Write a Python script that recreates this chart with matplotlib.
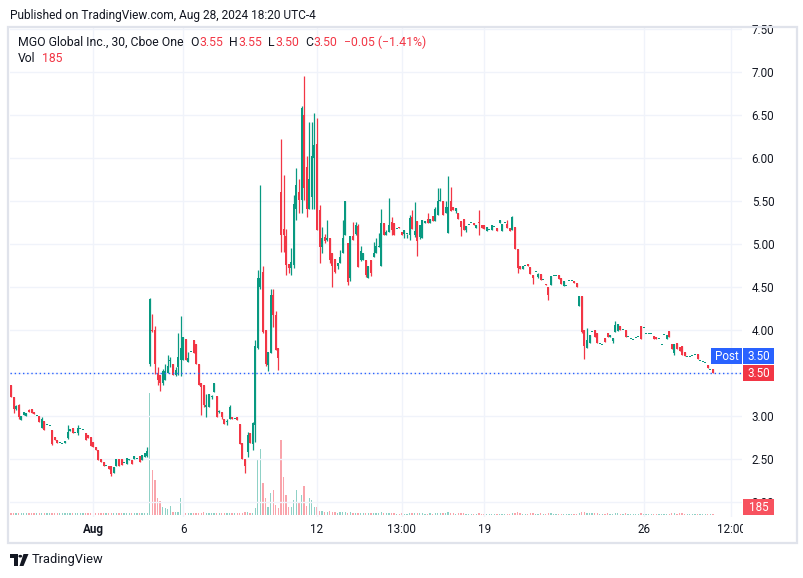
import numpy as np
import matplotlib
matplotlib.use("Agg")
import matplotlib.pyplot as plt
from matplotlib.patches import Rectangle, Polygon, Circle

# ---------------- data (30-minute bars, MGO Global Inc.) ----------------
opens = [
    3.36, 3.22, 3.08, 3.13, 2.95, 3.01, 3.00, 3.07, 3.08, 3.05,
    3.00, 3.00, 2.86, 2.94, 2.89, 2.88, 2.84, 2.76, 2.72, 2.69,
    2.68, 2.69, 2.74, 2.83, 2.86, 2.80, 2.80, 2.85, 2.84, 2.80,
    2.78, 2.76, 2.70, 2.64, 2.61, 2.50, 2.47, 2.42, 2.42, 2.42,
    2.34, 2.42, 2.50, 2.50, 2.45, 2.44, 2.49, 2.49, 2.50, 2.50,
    2.54, 2.49, 2.52, 2.54,
    3.60, 4.00, 4.00, 3.50, 3.48, 3.38, 3.42, 3.50, 3.64, 3.61,
    3.48, 3.57, 3.65, 3.65, 3.90, 3.63, 3.75, 3.88, 3.84, 3.61,
    3.38, 3.36, 3.10, 3.10, 3.22, 3.28, 3.23, 3.05, 3.05, 2.96,
    2.93, 2.97, 2.99, 2.96, 2.99, 2.91, 2.69, 2.50, 2.58, 2.80,
    2.68, 2.90,
    3.79, 4.50, 4.68, 4.00, 3.59, 3.73, 4.41,
    4.17, 3.79, 5.61, 5.18, 5.09, 4.77, 4.72, 4.76, 5.41, 5.60,
    5.51, 6.50, 5.90, 5.41, 5.55, 6.00, 6.16, 5.40, 4.97, 5.08,
    5.05, 5.07, 4.89, 4.83, 4.74, 4.78, 4.89, 5.10, 5.01, 4.60,
    5.09, 5.12, 5.21, 4.81, 4.81, 4.81, 4.61, 4.81, 4.85, 4.90,
    4.97, 4.74, 5.25, 5.10, 5.14, 5.26, 5.24, 5.18, 5.20, 5.14,
    5.12, 5.12, 5.10, 5.32, 5.10, 5.27, 5.08, 5.07, 5.25, 5.29,
    5.25, 5.33, 5.27, 5.34, 5.50, 5.50, 5.36, 5.13, 5.50, 5.43,
    5.38, 5.36, 5.27, 5.29, 5.16, 5.22, 5.25, 5.25, 5.19, 5.26,
    5.22, 5.22, 5.15, 5.16, 5.16, 5.20, 5.19, 5.24, 5.15, 5.25,
    5.23, 5.19, 5.16, 5.20, 4.94, 4.74, 4.71, 4.74, 4.77, 4.73,
    4.64, 4.67, 4.62, 4.65, 4.58, 4.54, 4.50, 4.52, 4.63, 4.63,
    4.64, 4.60, 4.51, 4.51, 4.57, 4.57, 4.57, 4.55, 4.28, 4.39,
    4.00, 3.79, 3.85, 3.98, 4.00, 3.96, 3.84, 3.83, 3.91, 3.97,
    3.92, 3.87, 3.98, 3.99, 4.05, 4.00, 4.00, 3.92, 3.90, 3.88,
    3.91, 3.92, 4.05, 4.02, 3.95, 3.95, 3.95, 3.93, 3.92, 3.89,
    3.83, 3.94, 3.89, 3.99, 3.84, 3.73, 3.85, 3.80, 3.81, 3.75,
    3.69, 3.69, 3.70, 3.71, 3.72, 3.64, 3.63, 3.62, 3.59, 3.54,
    3.55,
]
highs = [
    3.36, 3.22, 3.13, 3.14, 3.00, 3.05, 3.04, 3.08, 3.08, 3.05,
    3.00, 3.00, 2.99, 2.94, 2.89, 2.88, 2.84, 2.76, 2.72, 2.69,
    2.68, 2.71, 2.90, 2.85, 2.86, 2.80, 2.90, 2.85, 2.84, 2.80,
    2.78, 2.76, 2.70, 2.64, 2.61, 2.50, 2.47, 2.42, 2.42, 2.42,
    2.41, 2.50, 2.50, 2.50, 2.45, 2.51, 2.50, 2.49, 2.53, 2.50,
    2.54, 2.55, 2.57, 2.64,
    4.37, 4.19, 4.05, 3.57, 3.48, 3.55, 3.61, 3.71, 3.69, 3.61,
    3.57, 3.96, 4.16, 3.92, 3.90, 3.75, 3.75, 3.88, 3.84, 3.61,
    3.38, 3.36, 3.26, 3.26, 3.24, 3.38, 3.23, 3.07, 3.05, 2.96,
    2.96, 3.13, 2.99, 2.96, 2.99, 2.91, 2.69, 2.50, 2.82, 2.80,
    2.93, 3.88,
    4.70, 5.69, 4.74, 4.00, 3.75, 4.48, 4.48,
    4.22, 3.79, 6.22, 5.80, 5.18, 4.77, 4.95, 5.57, 5.88, 5.76,
    6.60, 6.95, 6.02, 6.42, 6.42, 6.52, 6.46, 5.45, 5.20, 5.12,
    5.28, 5.07, 4.89, 4.83, 4.78, 4.93, 5.28, 5.50, 5.01, 5.09,
    5.26, 5.26, 5.23, 4.98, 4.90, 4.81, 4.74, 4.81, 5.02, 5.07,
    5.13, 5.41, 5.25, 5.16, 5.53, 5.32, 5.24, 5.18, 5.20, 5.14,
    5.16, 5.12, 5.34, 5.40, 5.49, 5.27, 5.22, 5.28, 5.27, 5.36,
    5.29, 5.33, 5.43, 5.65, 5.65, 5.50, 5.50, 5.79, 5.66, 5.43,
    5.42, 5.36, 5.27, 5.29, 5.21, 5.22, 5.25, 5.25, 5.22, 5.40,
    5.22, 5.22, 5.20, 5.16, 5.22, 5.20, 5.19, 5.28, 5.23, 5.25,
    5.28, 5.19, 5.33, 5.20, 4.94, 4.74, 4.74, 4.74, 4.77, 4.73,
    4.64, 4.67, 4.66, 4.65, 4.58, 4.54, 4.50, 4.63, 4.63, 4.63,
    4.64, 4.60, 4.57, 4.51, 4.57, 4.57, 4.57, 4.55, 4.39, 4.39,
    4.00, 4.02, 3.94, 3.98, 4.00, 3.96, 3.84, 3.83, 3.91, 3.97,
    3.94, 3.91, 4.10, 4.07, 4.05, 4.00, 4.00, 3.92, 3.90, 3.88,
    3.91, 3.92, 4.05, 4.02, 3.95, 3.95, 3.95, 3.93, 3.92, 3.89,
    3.83, 3.94, 3.94, 3.99, 3.84, 3.84, 3.85, 3.80, 3.81, 3.75,
    3.69, 3.69, 3.70, 3.71, 3.72, 3.64, 3.63, 3.62, 3.59, 3.54,
    3.55,
]
lows = [
    3.22, 3.04, 3.07, 2.97, 2.95, 3.01, 3.00, 3.05, 3.03, 3.02,
    3.00, 2.93, 2.86, 2.84, 2.89, 2.88, 2.66, 2.72, 2.69, 2.69,
    2.68, 2.69, 2.73, 2.83, 2.80, 2.80, 2.78, 2.85, 2.84, 2.72,
    2.74, 2.65, 2.64, 2.61, 2.49, 2.47, 2.42, 2.42, 2.38, 2.30,
    2.34, 2.42, 2.42, 2.43, 2.45, 2.44, 2.49, 2.44, 2.50, 2.50,
    2.47, 2.49, 2.52, 2.52,
    3.58, 3.98, 3.49, 3.36, 3.29, 3.36, 3.42, 3.50, 3.57, 3.48,
    3.47, 3.48, 3.46, 3.65, 3.65, 3.63, 3.75, 3.73, 3.61, 3.36,
    3.01, 3.10, 2.99, 3.10, 3.20, 3.28, 2.99, 3.03, 2.97, 2.91,
    2.90, 2.97, 2.96, 2.96, 2.95, 2.68, 2.50, 2.34, 2.52, 2.69,
    2.60, 2.70,
    3.78, 4.48, 3.96, 3.58, 3.52, 3.73, 4.04,
    3.77, 3.53, 4.91, 4.91, 4.64, 4.66, 4.64, 4.72, 5.28, 5.36,
    5.36, 5.51, 5.32, 5.41, 5.41, 5.41, 5.16, 4.78, 4.89, 5.01,
    5.03, 4.78, 4.50, 4.66, 4.71, 4.78, 4.89, 5.10, 4.52, 4.57,
    5.05, 5.10, 4.73, 4.80, 4.81, 4.62, 4.60, 4.63, 4.85, 4.90,
    4.97, 4.74, 5.10, 5.10, 5.14, 5.10, 5.10, 5.18, 5.19, 5.10,
    5.07, 5.07, 5.05, 5.17, 5.08, 4.86, 5.06, 5.07, 5.25, 5.24,
    5.25, 5.27, 5.27, 5.34, 5.50, 5.34, 5.36, 5.13, 5.38, 5.40,
    5.36, 5.29, 5.09, 5.16, 5.14, 5.22, 5.25, 5.22, 5.19, 5.11,
    5.19, 5.17, 5.15, 5.16, 5.16, 5.20, 5.15, 5.24, 5.15, 5.25,
    5.19, 5.15, 5.16, 4.94, 4.66, 4.71, 4.71, 4.74, 4.74, 4.65,
    4.54, 4.67, 4.60, 4.58, 4.58, 4.52, 4.35, 4.52, 4.63, 4.63,
    4.59, 4.54, 4.51, 4.51, 4.57, 4.57, 4.55, 4.50, 4.28, 3.96,
    3.66, 3.79, 3.85, 3.98, 3.92, 3.85, 3.84, 3.83, 3.86, 3.92,
    3.92, 3.85, 3.98, 3.99, 4.00, 4.00, 3.92, 3.92, 3.90, 3.88,
    3.91, 3.92, 3.90, 4.02, 3.95, 3.95, 3.95, 3.90, 3.89, 3.89,
    3.83, 3.94, 3.89, 3.92, 3.78, 3.71, 3.78, 3.76, 3.71, 3.70,
    3.69, 3.69, 3.70, 3.71, 3.66, 3.64, 3.63, 3.62, 3.56, 3.54,
    3.50,
]
closes = [
    3.22, 3.08, 3.12, 2.99, 3.00, 3.05, 3.03, 3.05, 3.03, 3.02,
    3.00, 2.93, 2.97, 2.84, 2.89, 2.88, 2.67, 2.72, 2.69, 2.69,
    2.68, 2.71, 2.82, 2.85, 2.80, 2.80, 2.86, 2.85, 2.84, 2.72,
    2.74, 2.65, 2.64, 2.61, 2.49, 2.47, 2.42, 2.42, 2.38, 2.33,
    2.41, 2.50, 2.42, 2.43, 2.45, 2.51, 2.50, 2.44, 2.53, 2.50,
    2.47, 2.55, 2.57, 2.59,
    4.36, 3.99, 3.61, 3.42, 3.38, 3.52, 3.52, 3.58, 3.64, 3.48,
    3.53, 3.69, 3.79, 3.92, 3.65, 3.68, 3.75, 3.73, 3.61, 3.36,
    3.34, 3.13, 3.13, 3.26, 3.22, 3.38, 2.99, 3.05, 2.99, 2.91,
    2.93, 3.11, 2.96, 2.96, 2.95, 2.68, 2.50, 2.42, 2.78, 2.69,
    2.92, 3.81,
    4.60, 4.60, 3.98, 3.60, 3.75, 4.41, 4.17,
    3.77, 3.67, 5.10, 5.10, 4.76, 4.72, 4.79, 5.47, 5.69, 5.51,
    6.58, 5.65, 5.41, 5.76, 6.02, 6.15, 5.16, 4.97, 5.07, 5.03,
    5.07, 4.81, 4.74, 4.68, 4.78, 4.85, 5.07, 5.50, 4.56, 5.09,
    5.05, 5.22, 4.73, 4.92, 4.90, 4.64, 4.74, 4.66, 4.90, 4.98,
    4.97, 5.25, 5.10, 5.14, 5.22, 5.16, 5.10, 5.18, 5.19, 5.10,
    5.16, 5.12, 5.30, 5.17, 5.15, 5.03, 5.22, 5.28, 5.27, 5.24,
    5.29, 5.27, 5.41, 5.50, 5.50, 5.34, 5.43, 5.43, 5.38, 5.40,
    5.42, 5.29, 5.20, 5.16, 5.21, 5.22, 5.25, 5.22, 5.22, 5.24,
    5.19, 5.17, 5.20, 5.16, 5.22, 5.20, 5.15, 5.28, 5.23, 5.25,
    5.19, 5.15, 5.32, 4.94, 4.72, 4.71, 4.74, 4.74, 4.74, 4.65,
    4.60, 4.67, 4.65, 4.58, 4.58, 4.52, 4.41, 4.63, 4.63, 4.63,
    4.59, 4.54, 4.57, 4.51, 4.57, 4.57, 4.55, 4.50, 4.39, 3.98,
    3.81, 3.88, 3.94, 3.98, 3.92, 3.85, 3.84, 3.83, 3.86, 3.92,
    3.94, 3.91, 4.06, 4.07, 4.00, 4.00, 3.92, 3.92, 3.90, 3.88,
    3.91, 3.92, 3.90, 4.02, 3.95, 3.95, 3.95, 3.90, 3.89, 3.89,
    3.83, 3.94, 3.94, 3.92, 3.78, 3.84, 3.78, 3.76, 3.71, 3.70,
    3.69, 3.69, 3.70, 3.71, 3.66, 3.64, 3.63, 3.62, 3.56, 3.54,
    3.50,
]
volumes = [
    420, 380, 300, 350, 330, 380, 300, 340, 360, 310,
    300, 350, 330, 360, 300, 290, 380, 340, 320, 300,
    300, 320, 380, 330, 340, 300, 350, 310, 300, 340,
    330, 360, 350, 330, 380, 340, 350, 300, 320, 380,
    350, 360, 340, 330, 300, 340, 330, 310, 340, 300,
    330, 350, 360, 380,
    23500, 8700, 6650, 3230, 2660, 1520, 1330, 1140, 1710, 570,
    570, 570, 3230, 760, 380, 400, 350, 300, 330, 450,
    420, 520, 450, 380, 400, 330, 360, 420, 380, 350,
    380, 300, 420, 330, 300, 350, 480, 520, 560, 450,
    420, 1330,
    10800, 12700, 6100, 3230, 1520, 4180, 4750,
    1900, 1330, 14400, 7400, 3800, 1520, 1520, 2850, 4750, 2280,
    3800, 5500, 1710, 3230, 2850, 1520, 1520, 760, 700, 620,
    650, 700, 560, 520, 480, 500, 620, 580, 450, 520,
    420, 380, 450, 400, 380, 420, 350, 380, 400, 360,
    330, 520, 380, 300, 420, 350, 300, 280, 260, 300,
    280, 250, 320, 300, 350, 380, 300, 330, 280, 260,
    300, 280, 350, 420, 330, 380, 300, 560, 400, 300,
    280, 300, 320, 300, 260, 250, 280, 240, 260, 330,
    260, 250, 240, 230, 280, 240, 250, 280, 260, 240,
    280, 250, 420, 480, 520, 300, 260, 240, 280, 300,
    320, 250, 260, 300, 240, 280, 340, 300, 250, 230,
    260, 280, 250, 230, 240, 230, 250, 270, 380, 620,
    520, 420, 350, 300, 320, 340, 260, 240, 280, 300,
    260, 280, 380, 320, 280, 250, 300, 240, 230, 220,
    240, 230, 320, 260, 230, 220, 240, 260, 280, 230,
    240, 250, 260, 280, 300, 340, 280, 300, 320, 280,
    230, 220, 230, 220, 260, 240, 220, 230, 250, 220,
    185,
]
time_labels = ["Aug", "6", "12", "13:00", "19", "26", "12:00"]
time_label_bars = [32, 67, 119, 152, 184, 246, 280]
price_ticks = [2.0, 2.5, 3.0, 3.5, 4.0, 4.5, 5.0, 5.5, 6.0, 6.5, 7.0, 7.5]
last_price = 3.50
post_price = 3.50
last_volume = 185
legend_name = "MGO Global Inc., 30, Cboe One"
legend_keys = ["O", "H", "L", "C"]
legend_ohlc = ["3.55", "3.55", "3.50", "3.50"]
legend_change = "\u22120.05 (\u22121.41%)"

# ---------------- style ----------------
UP = "#089981"
DOWN = "#F23645"
TXT = "#131722"
GRID = "#f0f3fa"
BLUE = "#2962FF"

plt.rcParams["font.family"] = ["Roboto", "DejaVu Sans"]

W, H = 804, 578
fig = plt.figure(figsize=(W / 100, H / 100), dpi=100)
fig.patch.set_facecolor("white")


def fx(x):
    return x / W


def fy(y):
    return 1 - y / H


n = len(closes)
L, R, T, B = 10, 742, 28, 517
first_px, last_px = 11.0, 713.0
step = (last_px - first_px) / (n - 1)

ax = fig.add_axes([fx(L), fy(B), fx(R) - fx(L), fy(T) - fy(B)])
ax.set_xlim(-(first_px - L) / step, (R - first_px) / step)
ax.set_ylim(1.826, 7.512)

# volume pane (overlay at the bottom)
vax = ax.twinx()
vmax = max(volumes)
ppu = 122.0 / vmax
vax.set_ylim(-2.0 / ppu, (489 - 2.0) / ppu)
vax.set_yticks([])
for s in vax.spines.values():
    s.set_visible(False)
vax.set_zorder(ax.get_zorder() - 1)
ax.patch.set_visible(False)
vax.patch.set_visible(False)

for s in ax.spines.values():
    s.set_visible(False)

# the 3.50 scale label sits under the last-price box, as in the original
ax.set_yticks(price_ticks)
ax.set_yticklabels(["" if abs(v - last_price) < 1e-9 else f"{v:.2f}" for v in price_ticks])
ax.yaxis.tick_right()
ax.yaxis.set_label_position("right")
ax.tick_params(axis="y", which="both", left=False, right=False, labelleft=False,
               labelright=True, length=0, pad=7, labelsize=8.4, labelcolor=TXT)
ax.set_xticks(time_label_bars)
ax.set_xticklabels(time_labels)
ax.tick_params(axis="x", length=0, pad=4.5, labelsize=8.4, labelcolor=TXT)
ax.get_xticklabels()[0].set_fontweight("bold")
ax.grid(True, color=GRID, linewidth=1.0, zorder=0)
ax.set_axisbelow(True)

o = np.array(opens)
h = np.array(highs)
l = np.array(lows)
c = np.array(closes)
v = np.array(volumes)
idx = np.arange(n)
up = c >= o
col = np.where(up, UP, DOWN)

vcol = [(0.031, 0.6, 0.506, 0.45) if u else (0.949, 0.212, 0.271, 0.45) for u in up]
vax.bar(idx, v, width=0.5, color=vcol, linewidth=0)

# candles
ax.vlines(idx, l, h, colors=col, linewidth=0.9, zorder=3)
minh = 1.0 / 86
ax.bar(idx, np.maximum(np.abs(c - o), minh), bottom=np.minimum(o, c),
       width=0.78, color=col, linewidth=0, zorder=4)

# post-market dotted price line
ax.axhline(post_price, color=BLUE, linestyle=(0, (1, 2)), linewidth=1.0, zorder=5)


def box(x0, y0, x1, y1, color, z=10):
    fig.patches.append(Rectangle((fx(x0), fy(y1)), fx(x1) - fx(x0), fy(y0) - fy(y1),
                                 transform=fig.transFigure, facecolor=color,
                                 edgecolor="none", zorder=z))


# cover the clipped part of the last time label
box(R + 1, B + 2, 796, 540, "white", z=8)

# price-axis labels
box(711, 348, 742, 364, BLUE)
fig.text(fx(726.5), fy(356.5), "Post", color="white", fontsize=8.4, ha="center", va="center", zorder=11)
box(743, 348, 774, 364, BLUE)
fig.text(fx(758.5), fy(356.5), f"{post_price:.2f}", color="white", fontsize=8.4, ha="center", va="center", zorder=11)
box(743, 365, 774, 381, DOWN)
fig.text(fx(758.5), fy(373.5), f"{last_price:.2f}", color="white", fontsize=8.4, ha="center", va="center", zorder=11)
box(743, 499, 774, 515, "#f7525f")
fig.text(fx(758.5), fy(507.5), f"{last_volume}", color="white", fontsize=8.4, ha="center", va="center", zorder=11)

# outer frame
fig.patches.append(Rectangle((fx(8), fy(543)), fx(797) - fx(8), fy(27) - fy(543),
                             transform=fig.transFigure, facecolor="none",
                             edgecolor="#e0e3eb", linewidth=1.6, zorder=12))

# header
fig.text(fx(10), fy(15), "Published on TradingView.com, Aug 28, 2024 18:20 UTC-4",
         color=TXT, fontsize=8.6, ha="left", va="center")

# legend, laid out piece by piece
renderer = fig.canvas.get_renderer()


def seq(x, y, parts, size=8.8):
    for s, color, gap in parts:
        t = fig.text(fx(x), fy(y), s, color=color, fontsize=size, va="center", ha="left")
        x += t.get_window_extent(renderer).width + gap


parts = [(legend_name, TXT, 7)]
for k, val in zip(legend_keys, legend_ohlc):
    parts.append((k, TXT, 0.5))
    parts.append((val, DOWN, 6))
parts.append((legend_change, DOWN, 0))
seq(18, 42, parts)
seq(18, 58, [("Vol", TXT, 7), (f"{last_volume}", DOWN, 0)])

# TradingView logo + wordmark
logo = "#131722"
fig.patches.append(Polygon([(fx(10), fy(554)), (fx(18), fy(554)), (fx(18), fy(566)),
                            (fx(14.5), fy(566)), (fx(14.5), fy(557.5)), (fx(10), fy(557.5))],
                           closed=True, transform=fig.transFigure, facecolor=logo,
                           edgecolor="none", zorder=10))
fig.patches.append(Circle((fx(20.3), fy(556.2)), 1.9 / W, transform=fig.transFigure,
                          facecolor=logo, edgecolor="none", zorder=10))
fig.patches.append(Polygon([(fx(23.5), fy(554)), (fx(28.5), fy(554)), (fx(23.5), fy(566)),
                            (fx(19.5), fy(566))],
                           closed=True, transform=fig.transFigure, facecolor=logo,
                           edgecolor="none", zorder=10))
fig.text(fx(32), fy(560), "TradingView", color=TXT, fontsize=9.3, ha="left", va="center")

fig.savefig("out.png", dpi=100, facecolor="white")
